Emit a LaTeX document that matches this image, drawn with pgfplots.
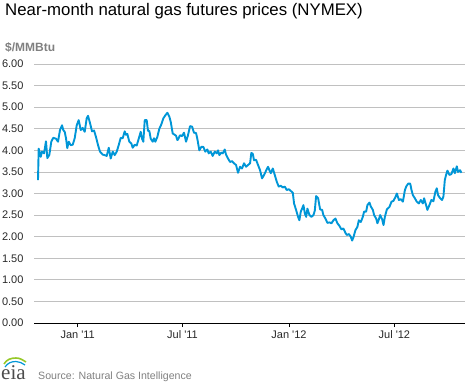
\documentclass[border=0pt]{standalone}
\usepackage{pgfplots}
\pgfplotsset{compat=1.18}
\usepackage{fontspec}
\setmainfont{Liberation Sans}
\newfontfamily\serifeia{Liberation Serif}
\definecolor{eiablue}{RGB}{0,150,215}
\definecolor{gridgray}{RGB}{192,192,192}
\definecolor{labgray}{RGB}{128,128,128}
\definecolor{ticktext}{RGB}{40,40,40}

\pgfplotstableread{
day price
-68.6 3.31
-67.4 4.04
-63.9 3.85
-61.7 3.97
-58.2 3.93
-54.8 4.21
-52.5 3.82
-49.1 3.89
-45.6 4.20
-42.2 4.29
-37.5 4.27
-34.0 4.20
-30.6 4.47
-27.1 4.58
-24.9 4.47
-22.5 4.43
-20.2 4.28
-18.0 4.05
-15.5 4.20
-12.1 4.12
-8.6 4.13
-5.2 4.28
-1.7 4.58
1.7 4.70
5.2 4.47
8.6 4.52
12.1 4.43
15.5 4.74
17.8 4.80
21.3 4.63
24.7 4.44
28.2 4.46
31.6 4.31
35.1 4.12
38.5 3.97
43.2 3.90
46.6 3.89
50.1 3.87
53.6 4.06
57.0 3.81
60.5 3.97
63.9 3.89
67.4 3.97
70.8 4.12
74.3 4.29
77.7 4.28
81.2 4.44
83.4 4.36
85.7 4.38
89.1 4.20
92.6 4.16
95.0 4.06
98.5 4.13
101.9 4.11
105.4 4.27
108.8 4.43
111.1 4.27
113.3 4.20
115.8 4.70
119.2 4.70
121.4 4.45
123.7 4.45
126.1 4.27
129.6 4.20
131.8 4.28
134.1 4.20
137.5 4.31
141.0 4.50
144.4 4.60
147.9 4.74
151.3 4.81
154.8 4.87
158.3 4.78
160.7 4.66
164.1 4.39
167.6 4.36
169.8 4.34
172.1 4.24
173.3 4.25
176.7 4.35
180.2 4.33
183.6 4.41
187.1 4.20
190.5 4.35
194.0 4.56
197.5 4.55
200.9 4.41
204.4 4.40
206.6 4.27
210.1 4.00
213.5 4.08
217.0 4.08
220.4 3.97
223.9 4.02
226.3 3.93
229.8 3.97
233.2 3.87
236.7 3.97
240.2 3.93
242.4 4.00
244.7 3.89
248.1 3.95
250.5 3.93
254.0 4.02
256.2 3.90
259.7 3.81
263.1 3.73
266.6 3.75
270.0 3.70
273.5 3.66
276.9 3.48
280.4 3.62
283.8 3.58
287.3 3.70
290.8 3.62
294.2 3.66
297.7 3.70
299.9 3.94
302.4 3.92
304.6 3.77
308.1 3.78
311.5 3.66
315.0 3.54
318.4 3.35
321.9 3.43
325.4 3.53
328.8 3.62
331.1 3.54
333.5 3.47
337.0 3.58
340.4 3.43
343.9 3.27
347.3 3.16
350.8 3.18
354.2 3.14
357.7 3.16
361.1 3.08
364.6 3.10
368.0 3.06
371.5 3.02
373.7 2.77
377.2 2.62
380.6 2.46
382.9 2.38
385.3 2.58
387.6 2.65
389.9 2.73
392.3 2.54
394.6 2.46
396.8 2.65
400.3 2.50
403.7 2.46
407.2 2.50
409.5 2.60
411.8 2.94
415.3 2.89
418.7 2.63
422.2 2.62
424.4 2.50
427.9 2.42
431.3 2.32
434.8 2.33
438.3 2.31
441.7 2.38
445.2 2.42
448.6 2.31
452.1 2.25
455.5 2.17
459.0 2.19
462.4 2.09
464.8 2.04
468.3 2.06
471.7 2.00
474.0 1.91
476.2 1.98
479.7 2.15
483.2 2.23
485.6 2.38
489.0 2.34
492.5 2.46
494.7 2.58
498.2 2.58
500.4 2.73
503.9 2.79
506.3 2.70
509.8 2.62
512.0 2.50
515.5 2.42
517.7 2.31
520.2 2.40
522.4 2.50
525.9 2.40
528.2 2.27
530.6 2.46
534.0 2.63
538.5 2.69
542.0 2.81
545.4 2.83
548.9 2.92
551.3 3.00
554.8 2.85
558.1 2.87
561.7 2.81
565.2 3.08
567.4 3.16
570.9 3.23
574.3 3.23
576.6 3.08
579.0 2.96
582.4 2.89
585.7 2.81
589.3 2.77
592.6 2.85
596.2 2.77
598.3 2.89
601.8 2.73
604.0 2.62
607.5 2.73
610.9 2.85
614.4 2.82
617.8 3.04
620.2 3.12
622.5 2.96
626.0 2.89
629.4 2.85
631.7 2.93
634.1 3.31
636.3 3.43
638.6 3.53
642.1 3.43
645.5 3.45
649.0 3.58
651.4 3.47
654.8 3.63
657.0 3.50
660.5 3.54
662.8 3.48
}\gasdata

\begin{document}
\begin{tikzpicture}[x=1pt,y=1pt]
\useasboundingbox (-34,-60) rectangle (436,323);
\begin{axis}[
  at={(0,0)}, anchor=south west,
  scale only axis, width=431pt, height=259pt,
  xmin=-75.5, xmax=669, ymin=0, ymax=6,
  axis x line*=bottom, axis y line*=left,
  y axis line style={draw=none},
  x axis line style={black, line width=1pt},
  ytick={0,0.5,1,1.5,2,2.5,3,3.5,4,4.5,5,5.5,6},
  yticklabel={\pgfmathprintnumber[fixed,fixed zerofill,precision=2]{\tick}},
  /pgf/number format/assume math mode=true,
  ymajorgrids, grid style={gridgray, line width=0.8pt},
  xtick={0,181,365,547},
  xticklabels={Jan \textquotesingle11, Jul \textquotesingle11, Jan \textquotesingle12, Jul \textquotesingle12},
  tick align=outside, major tick length=4pt,
  xtick style={black, line width=0.8pt},
  ytick style={draw=none},
  tick label style={font=\fontsize{11}{13}\selectfont, text=ticktext},
  yticklabel style={anchor=east, xshift=-3pt},
]
\addplot[eiablue, line width=1.9pt, line join=round, no markers] table[x=day, y=price] {\gasdata};
\end{axis}
\node[anchor=base west, inner sep=0, font=\fontsize{16.8}{19}\selectfont] at (-29,307) {Near-month natural gas futures prices (NYMEX)};
\node[anchor=base west, inner sep=0, text=labgray, font=\bfseries\fontsize{12}{14}\selectfont] at (-29,271) {\$/MMBtu};
\node[anchor=base west, inner sep=0, text=labgray, font=\fontsize{10.6}{13}\selectfont] at (4,-56.5) {Source: Natural Gas Intelligence};
\node[anchor=base west, inner sep=0, text=black!70, font=\serifeia\fontsize{21}{23}\selectfont] at (-33,-56) {eia};
\draw[line width=1.6pt, color={rgb,255:red,150;green,200;blue,40}] (-30,-41) to[out=60,in=180] (-18,-35) to[out=0,in=150] (-8,-39);
\draw[line width=1.2pt, color=eiablue] (-29,-44) to[out=55,in=180] (-18,-38.5) to[out=0,in=150] (-9,-42);
\end{tikzpicture}
\end{document}
